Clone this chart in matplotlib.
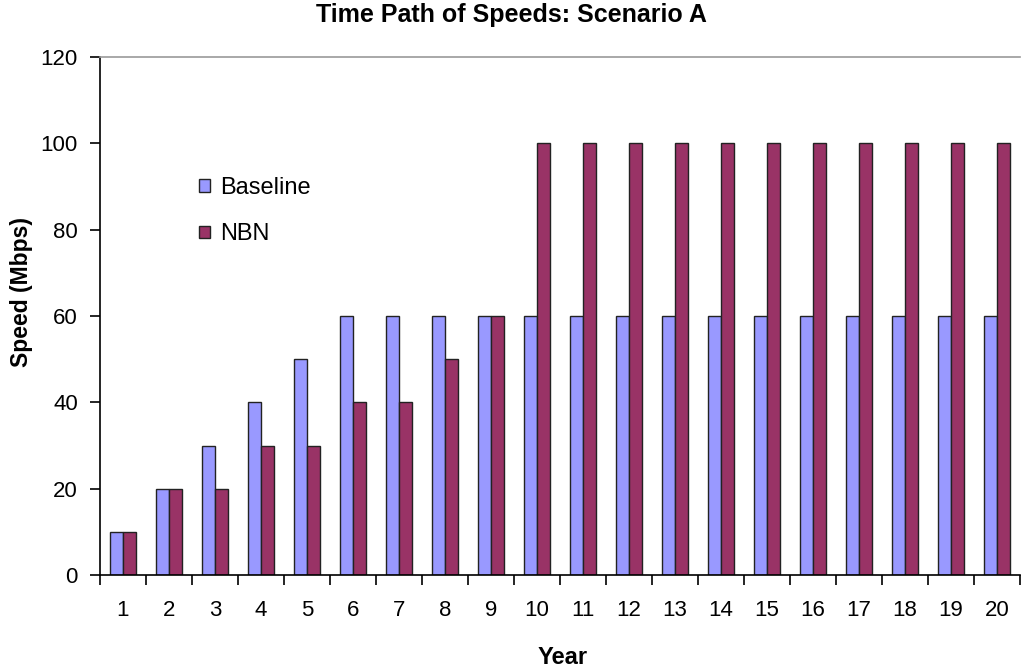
import matplotlib
matplotlib.use("Agg")
import matplotlib.pyplot as plt
import numpy as np

plt.rcParams["font.family"] = ["Liberation Sans", "DejaVu Sans"]

years = list(range(1, 21))
baseline = [10, 20, 30, 40, 50, 60, 60, 60, 60, 60, 60, 60, 60, 60, 60, 60, 60, 60, 60, 60]
nbn = [10, 20, 20, 30, 30, 40, 40, 50, 60, 100, 100, 100, 100, 100, 100, 100, 100, 100, 100, 100]

fig = plt.figure(figsize=(10.23, 6.71), dpi=100)
ax = fig.add_axes([100 / 1023, 1 - 575 / 671, 920 / 1023, 518 / 671])

x = np.arange(len(years))
w = 0.285
ax.bar(x - w / 2, baseline, w, color="#9999FF", edgecolor="#222222", linewidth=1.0, label="Baseline")
ax.bar(x + w / 2, nbn, w, color="#993366", edgecolor="#222222", linewidth=1.0, label="NBN")

ax.set_xlim(-0.5, len(years) - 0.5)
ax.set_ylim(0, 120)
ax.set_yticks(range(0, 121, 20))
ax.set_xticks(x)
ax.set_xticklabels([str(y) for y in years])
ax.set_xticks(np.arange(-0.5, len(years)), minor=True)
ax.tick_params(axis="x", which="major", length=0, pad=18, labelsize=16)
ax.tick_params(axis="x", which="minor", length=7, width=1.2, color="black")
ax.tick_params(axis="y", length=7, width=1.2, labelsize=16, pad=9)

ax.spines["right"].set_visible(False)
ax.spines["top"].set_color("#999999")
ax.spines["top"].set_linewidth(1.2)
ax.spines["left"].set_linewidth(1.2)
ax.spines["bottom"].set_linewidth(1.2)

ax.set_xlabel("Year", fontsize=17, fontweight="bold")
ax.set_ylabel("Speed (Mbps)", fontsize=16.5, fontweight="bold")
ax.xaxis.set_label_coords(0.503, -0.138)
ax.yaxis.set_label_coords(-0.073, 0.546)
fig.suptitle("Time Path of Speeds: Scenario A", fontsize=18, fontweight="bold", x=0.5, y=0.995)

ax.legend(loc="upper left", bbox_to_anchor=(0.108, 0.768), frameon=False, fontsize=17,
          borderpad=0, borderaxespad=0,
          handlelength=0.45, handleheight=0.45, handletextpad=0.45, labelspacing=1.03)

fig.savefig("out.png", dpi=100)
